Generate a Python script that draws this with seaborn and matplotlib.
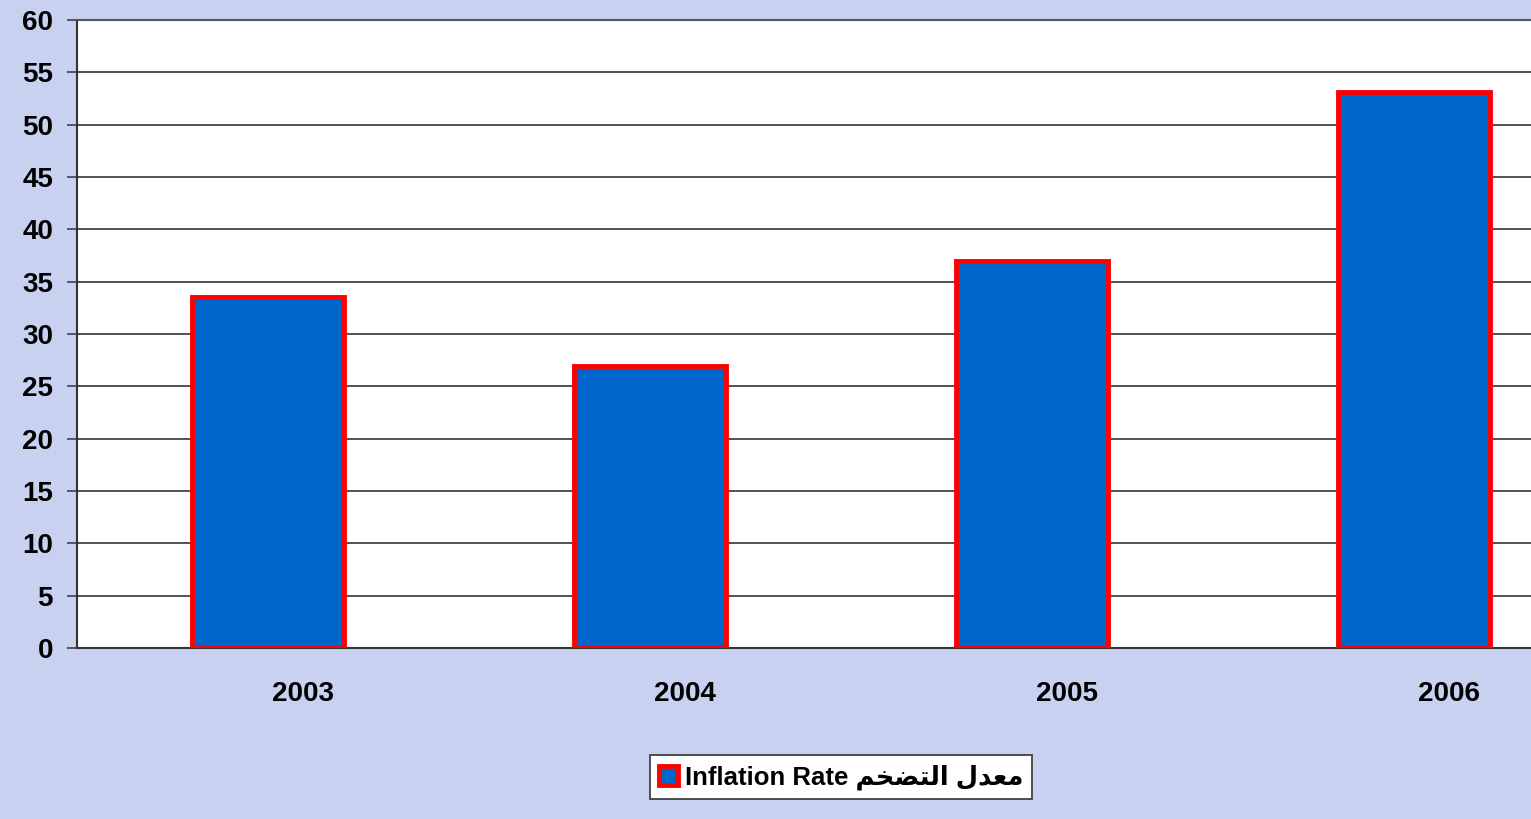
import matplotlib
matplotlib.use('Agg')
import matplotlib.pyplot as plt
import seaborn as sns
import pandas as pd

# data
years = ['2003', '2004', '2005', '2006']
inflation = [33.5, 26.9, 37.0, 53.1]
# legend text: "Inflation Rate" + Arabic (pre-shaped, visual order)
arabic_label = '\uFEE2\uFEA8\uFEC0\uFE98\uFEDF\uFE8D \uFEDD\uFEAA\uFECC\uFEE3'
series_label = 'Inflation Rate ' + arabic_label
y_ticks = list(range(0, 61, 5))

df = pd.DataFrame({'year': years, 'rate': inflation})

sns.set_style('white')
plt.rcParams['font.family'] = ['Liberation Sans', 'DejaVu Sans']
plt.rcParams['font.weight'] = 'bold'
plt.rcParams['text.color'] = 'black'
plt.rcParams['xtick.color'] = 'black'
plt.rcParams['ytick.color'] = 'black'

bg = '#c8d2f0'
fig = plt.figure(figsize=(15.31, 8.19), dpi=100, facecolor=bg)
ax = fig.add_axes([77 / 1531, 171 / 819, 1454 / 1531, 628 / 819])
ax.set_facecolor('white')

sns.barplot(data=df, x='year', y='rate', color='#0066CC', edgecolor='#ff0000',
            linewidth=3.5, width=0.4, saturation=1, label=series_label, ax=ax,
            zorder=3)

ax.set_xlim(-0.5, -0.5 + 1454 / 382)
ax.set_ylim(0, 60)
ax.set_yticks(y_ticks)
ax.set_yticklabels([str(t) for t in y_ticks], fontsize=20, fontweight='bold', color='black')
ax.yaxis.grid(True, color='#222222', linewidth=1.1, zorder=0)
ax.set_axisbelow(True)

# category boundary ticks, labels a bit right of centre like the original
ax.set_xticks([0.5, 1.5, 2.5], labels=['', '', ''])
ax.set_xticks([i + 35 / 382 for i in range(len(years))], labels=years, minor=True)
ax.tick_params(axis='x', which='major', length=6.5, width=1.1, color='#333333', direction='out')
ax.tick_params(axis='x', which='minor', length=0, pad=24, labelsize=20, labelcolor='black')
for t in ax.get_xticklabels(minor=True):
    t.set_fontweight('bold')
ax.tick_params(axis='y', length=7.2, width=1.1, color='#333333', direction='out', pad=10, left=True)
ax.set_xlabel('')
ax.set_ylabel('')

for s in ['left', 'bottom']:
    ax.spines[s].set_color('#333333')
    ax.spines[s].set_linewidth(1.5)
ax.spines['top'].set_color('#555555')
ax.spines['top'].set_linewidth(1.5)
ax.spines['right'].set_visible(False)

handles, labels = ax.get_legend_handles_labels()
if ax.get_legend() is not None:
    ax.get_legend().remove()
leg = fig.legend(handles, labels, loc='center', bbox_to_anchor=(841 / 1531, 1 - 777 / 819),
                 frameon=True, fancybox=False, edgecolor='#333333', facecolor='white',
                 prop={'size': 18.5, 'weight': 'bold'}, handlelength=0.75, handleheight=0.75,
                 handletextpad=0.25, borderpad=0.35, framealpha=1)
leg.get_frame().set_linewidth(1.2)
for t in leg.get_texts():
    t.set_color('black')

fig.savefig('out.png', dpi=100, facecolor=bg)
